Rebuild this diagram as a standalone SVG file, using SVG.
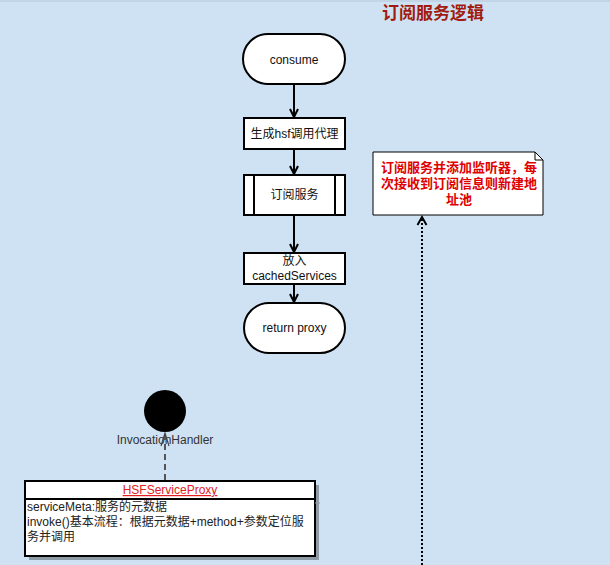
<svg xmlns="http://www.w3.org/2000/svg" width="610" height="565" viewBox="0 0 610 565">
  <defs>
    <style>
      text { font-family: "Liberation Sans", "Noto Sans CJK SC", sans-serif; }
      .node { fill: #ffffff; stroke: #000000; stroke-width: 2; }
      .lbl { font-size: 12px; fill: #111111; text-anchor: middle; }
      .flow { stroke: #000000; stroke-width: 2; fill: none; marker-end: url(#arrow); }
    </style>
    <marker id="arrow" viewBox="0 0 10 10" refX="9" refY="5" markerWidth="5" markerHeight="5" orient="auto" markerUnits="strokeWidth">
      <path d="M1,1 L9,5 L1,9" fill="none" stroke="#000" stroke-width="2"/>
    </marker>
  </defs>

  <rect x="0" y="0" width="610" height="565" fill="#cfe2f3"/>
  <rect x="0" y="0" width="610" height="2" fill="#c2d5e6"/>

  <text x="433" y="19" font-size="17" font-weight="bold" fill="#a01c10" text-anchor="middle">订阅服务逻辑</text>

  <g id="consume">
    <rect class="node" x="243" y="34" width="102" height="50" rx="25" ry="25"/>
    <text class="lbl" x="294" y="64">consume</text>
  </g>

  <g id="gen-proxy">
    <rect class="node" x="244" y="118" width="101" height="31"/>
    <text class="lbl" x="294.5" y="138">生成hsf调用代理</text>
  </g>

  <g id="subscribe">
    <rect class="node" x="244" y="175" width="101" height="40"/>
    <line x1="254" y1="175" x2="254" y2="215" stroke="#000" stroke-width="2"/>
    <line x1="335" y1="175" x2="335" y2="215" stroke="#000" stroke-width="2"/>
    <text class="lbl" x="294.5" y="199">订阅服务</text>
  </g>

  <g id="cache">
    <rect class="node" x="244" y="253" width="101" height="31"/>
    <text class="lbl" x="294.5" y="265">放入</text>
    <text class="lbl" x="294.5" y="280">cachedServices</text>
  </g>

  <g id="return-proxy">
    <rect class="node" x="244" y="303" width="101" height="50" rx="25" ry="25"/>
    <text class="lbl" x="294.5" y="332">return proxy</text>
  </g>

  <g id="note">
    <path d="M373,152 L535,152 L543,160 L543,215 L373,215 Z" fill="#ffffff" stroke="#000" stroke-width="1"/>
    <path d="M535,152 L535,160 L543,160" fill="none" stroke="#000" stroke-width="1"/>
    <g font-size="13" font-weight="bold" fill="#e00000" text-anchor="middle">
      <text x="459" y="172">订阅服务并添加监听器，每</text>
      <text x="459" y="188">次接收到订阅信息则新建地</text>
      <text x="459" y="204">址池</text>
    </g>
  </g>

  <g id="invocation-handler">
    <circle cx="165" cy="411" r="21" fill="#000"/>
    <text x="165" y="444" font-size="12" fill="#333" text-anchor="middle">InvocationHandler</text>
  </g>

  <g id="hsf-service-proxy">
    <rect x="29" y="485" width="290" height="75" fill="#8e9aa6"/>
    <rect x="25" y="481" width="290" height="75" fill="#ffffff" stroke="#000" stroke-width="2"/>
    <line x1="315" y1="503" x2="320" y2="503" stroke="#8e9aa6" stroke-width="1"/>
    <line x1="25" y1="499" x2="315" y2="499" stroke="#000" stroke-width="2"/>
    <text x="170" y="494" font-size="12" fill="#e02020" text-anchor="middle" text-decoration="underline">HSFServiceProxy</text>
    <g font-size="12" fill="#222">
      <text x="27" y="511">serviceMeta:服务的元数据</text>
      <text x="27" y="526">invoke()基本流程：根据元数据+method+参数定位服</text>
      <text x="27" y="541">务并调用</text>
    </g>
  </g>

  <g id="connectors">
    <line class="flow" x1="294" y1="84" x2="294" y2="117"/>
    <line class="flow" x1="294" y1="149" x2="294" y2="174"/>
    <line class="flow" x1="294" y1="215" x2="294" y2="252"/>
    <line class="flow" x1="294" y1="285" x2="294" y2="302"/>
    <line x1="422" y1="565" x2="422" y2="218" stroke="#000" stroke-width="2" stroke-dasharray="2 2"/>
    <path d="M417.5,225 L422,217 L426.5,225" fill="none" stroke="#000" stroke-width="2"/>
    <line x1="165" y1="480" x2="165" y2="434" stroke="#555" stroke-width="2" stroke-dasharray="6 4"/>
    <path d="M161,446 L165,433 L169,446" fill="none" stroke="#444" stroke-width="1.2"/>
  </g>
</svg>
